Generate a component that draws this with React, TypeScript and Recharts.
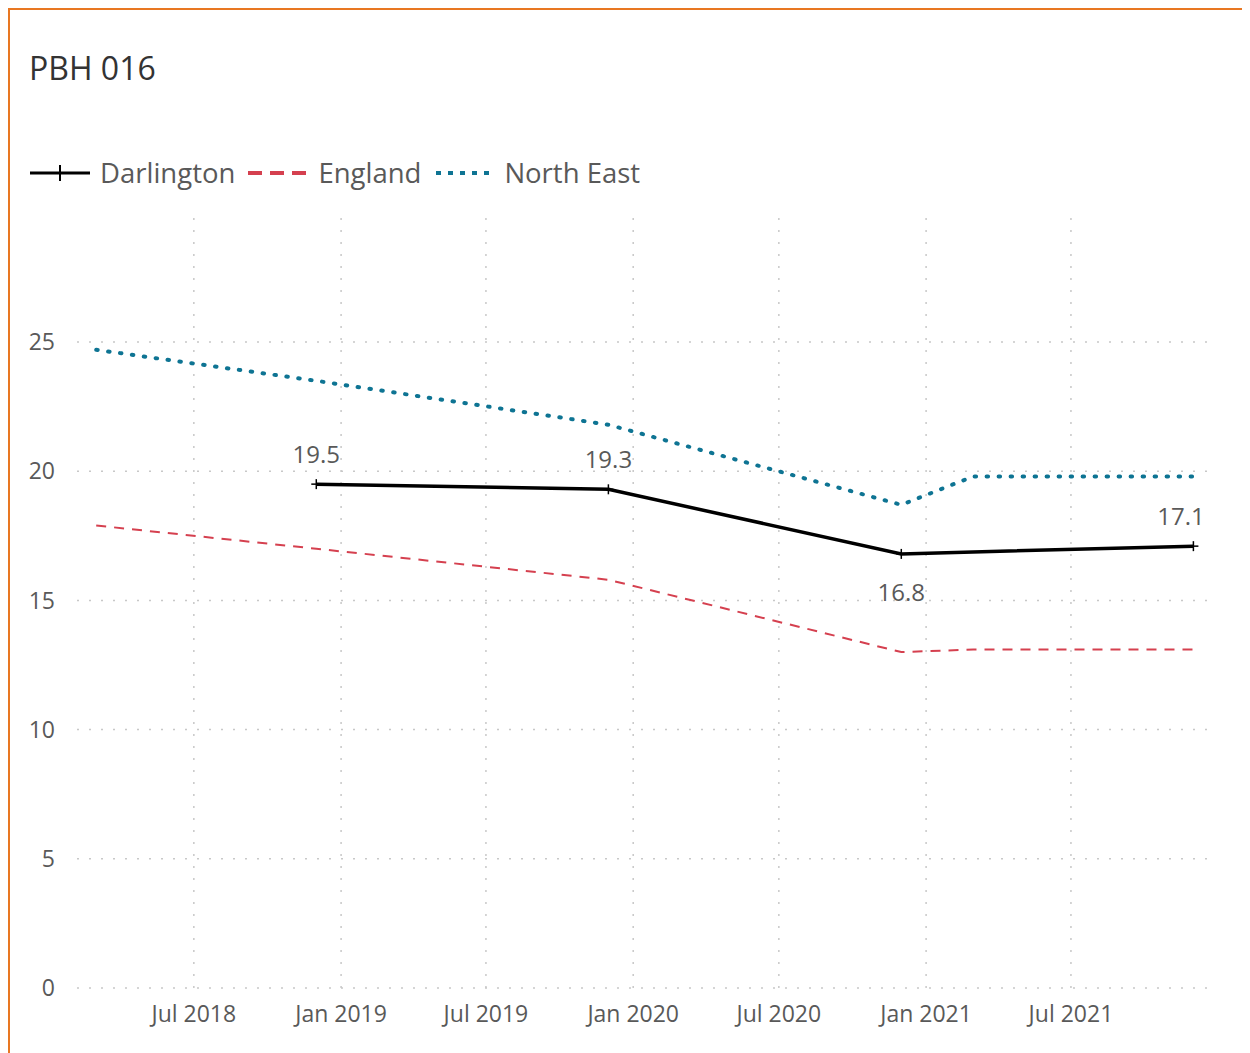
import { LineChart, Line, XAxis, YAxis, CartesianGrid, LabelList } from 'recharts'

const periods = ['2018-03-01', '2018-12-01', '2019-12-01', '2020-12-01', '2021-03-01', '2021-12-01']
const darlington = [null, 19.5, 19.3, 16.8, null, 17.1]
const england = [17.9, 17.0, 15.8, 13.0, 13.1, 13.1]
const northEast = [24.7, 23.5, 21.8, 18.7, 19.8, 19.8]

const xTicks = ['2018-07-01', '2019-01-01', '2019-07-01', '2020-01-01', '2020-07-01', '2021-01-01', '2021-07-01']
const yTicks = [0, 5, 10, 15, 20, 25]
const xDomain = ['2018-02-05', '2021-12-18']

const MONTHS = ['Jan', 'Feb', 'Mar', 'Apr', 'May', 'Jun', 'Jul', 'Aug', 'Sep', 'Oct', 'Nov', 'Dec']
const ts = (d: string) => new Date(d + 'T00:00:00Z').getTime()

const data = periods.map((p, i) => ({
  t: ts(p),
  darlington: darlington[i],
  england: england[i],
  northEast: northEast[i],
}))

const FONT = '"Open Sans", "Noto Sans", sans-serif'
const GREY = '#595959'
const RED = '#D5404F'
const TEAL = '#0E7493'
const PLOT_RIGHT = 1196

// which darlington labels sit under the point
const labelsBelow = [3]

const Cross = (props: any) => {
  const { cx, cy, value } = props
  if (value == null || cx == null) return null
  return (
    <g>
      <line x1={cx - 5} x2={cx + 5} y1={cy} y2={cy} stroke="#000" strokeWidth={1.5} />
      <line x1={cx} x2={cx} y1={cy - 5} y2={cy + 5} stroke="#000" strokeWidth={1.5} />
    </g>
  )
}

const ValueLabel = (props: any) => {
  const { x, y, value, index } = props
  if (value == null) return null
  const below = labelsBelow.includes(index)
  // keep the text inside the plot like the original does
  const lx = Math.min(x, PLOT_RIGHT - 26)
  return (
    <text
      x={lx}
      y={below ? y + 47 : y - 21}
      textAnchor="middle"
      fill={GREY}
      fontSize={24}
      fontFamily={FONT}
    >
      {value.toFixed(1)}
    </text>
  )
}

const fmtTick = (v: number) => {
  const d = new Date(v)
  return `${MONTHS[d.getUTCMonth()]} ${d.getUTCFullYear()}`
}

function LegendItem({ label, icon }: { label: string; icon: React.ReactNode }) {
  return (
    <div style={{ display: 'flex', alignItems: 'center', marginRight: 13 }}>
      <svg width={60} height={20} style={{ marginRight: 10 }}>{icon}</svg>
      <span>{label}</span>
    </div>
  )
}

export default function App() {
  return (
    <div
      style={{
        position: 'relative',
        width: 1240,
        height: 1046,
        marginLeft: -1,
        marginTop: -1,
        borderTop: '3px solid #E87722',
        borderLeft: '3px solid #E87722',
        fontFamily: FONT,
        background: '#fff',
      }}
    >
      <div style={{ position: 'absolute', left: 19, top: 42, fontSize: 32, color: '#333', lineHeight: 1 }}>
        PBH 016
      </div>
      <div
        style={{
          position: 'absolute',
          left: 20,
          top: 147,
          display: 'flex',
          fontSize: 27.5,
          color: GREY,
          lineHeight: '32px',
        }}
      >
        <LegendItem
          label="Darlington"
          icon={
            <g>
              <line x1={0} x2={60} y1={10} y2={10} stroke="#000" strokeWidth={3} />
              <line x1={30} x2={30} y1={2} y2={18} stroke="#000" strokeWidth={2} />
            </g>
          }
        />
        <LegendItem
          label="England"
          icon={<line x1={0} x2={60} y1={10} y2={10} stroke={RED} strokeWidth={4} strokeDasharray="14 8" />}
        />
        <LegendItem
          label="North East"
          icon={<line x1={2} x2={60} y1={10} y2={10} stroke={TEAL} strokeWidth={4} strokeDasharray="5 7" />}
        />
      </div>
      <div style={{ position: 'absolute', left: 1, top: 1 }}>
        <LineChart
          width={1230}
          height={1030}
          data={data}
          margin={{ top: 207, right: 34, left: 6, bottom: 0 }}
        >
          <CartesianGrid
            stroke="#c8c8c8"
            strokeDasharray="2 10"
            strokeWidth={1.5}
            verticalValues={xTicks.map(ts)}
            horizontalValues={yTicks}
          />
          <XAxis
            dataKey="t"
            type="number"
            scale="time"
            domain={xDomain.map(ts)}
            ticks={xTicks.map(ts)}
            tickFormatter={fmtTick}
            axisLine={false}
            tickLine={false}
            tickSize={0}
            tickMargin={18}
            height={53}
            tick={{ fill: GREY, fontSize: 23, fontFamily: FONT }}
          />
          <YAxis
            domain={[0, 29.8]}
            ticks={yTicks}
            axisLine={false}
            tickLine={false}
            tickSize={0}
            tickMargin={22}
            width={60}
            tick={{ fill: GREY, fontSize: 23, fontFamily: FONT }}
          />
          <Line
            dataKey="england"
            stroke={RED}
            strokeWidth={2}
            strokeDasharray="10 8"
            dot={false}
            isAnimationActive={false}
          />
          <Line
            dataKey="northEast"
            stroke={TEAL}
            strokeWidth={4}
            strokeDasharray="1.5 10.5"
            strokeLinecap="round"
            dot={false}
            isAnimationActive={false}
          />
          <Line
            dataKey="darlington"
            stroke="#000"
            strokeWidth={3.5}
            connectNulls
            dot={<Cross />}
            activeDot={false}
            isAnimationActive={false}
          >
            <LabelList dataKey="darlington" content={<ValueLabel />} />
          </Line>
        </LineChart>
      </div>
    </div>
  )
}
